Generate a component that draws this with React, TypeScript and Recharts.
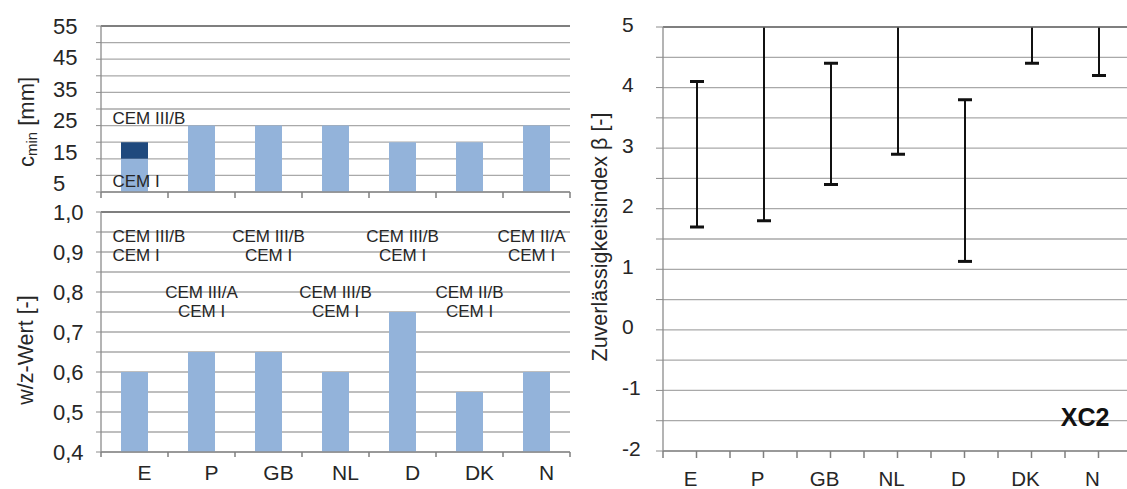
import React from "react";
import {
  BarChart,
  Bar,
  ComposedChart,
  XAxis,
  YAxis,
  CartesianGrid,
  ReferenceLine,
  ReferenceDot,
} from "recharts";

const countries = ["E", "P", "GB", "NL", "D", "DK", "N"];

// c_min in mm (CEM I bars, plus the CEM III/B value where one is shown)
const cMinCemI = [15, 25, 25, 25, 20, 20, 25];
const cMinCemIIIB = [20, null, null, null, null, null, null];
const cMinTicks = [5, 10, 15, 20, 25, 30, 35, 40, 45, 50, 55];

// w/z values
const wzValues = [0.6, 0.65, 0.65, 0.6, 0.75, 0.55, 0.6];
const wzTicks = [0.4, 0.45, 0.5, 0.55, 0.6, 0.65, 0.7, 0.75, 0.8, 0.85, 0.9, 0.95, 1.0];
const cementAlt = ["CEM III/B", "CEM III/A", "CEM III/B", "CEM III/B", "CEM III/B", "CEM II/B", "CEM II/A"];
const cementRef = ["CEM I", "CEM I", "CEM I", "CEM I", "CEM I", "CEM I", "CEM I"];

// reliability index ranges (upper ends beyond 5 are cut off in the plot)
const betaMin = [1.7, 1.8, 2.4, 2.9, 1.13, 4.4, 4.2];
const betaMax = [4.1, 5.5, 4.4, 5.5, 3.8, 5.5, 5.5];
const betaTicks = [-2, -1.5, -1, -0.5, 0, 0.5, 1, 1.5, 2, 2.5, 3, 3.5, 4, 4.5, 5];

const FONT = '"Liberation Sans", Arial, Helvetica, sans-serif';
const TEXT = "#262626";
const GRID = "#A9A9A9";
const AXIS = "#8C8C8C";
const BORDER = "#6A6A6A";
const LIGHT = "#93B3DA";
const DARK = "#1F497D";

const cMinData = countries.map((c, i) => ({
  country: c,
  cemI: cMinCemI[i],
  cemIIIB: cMinCemIIIB[i] != null ? (cMinCemIIIB[i] as number) - cMinCemI[i] : 0,
}));
const wzData = countries.map((c, i) => ({ country: c, wz: wzValues[i] }));
const betaData = countries.map((c, i) => ({ country: c, range: [betaMin[i], betaMax[i]] }));

function YTick(props: any) {
  const { x, y, payload, fmt, dx, size, shift } = props;
  const label = fmt(payload.value);
  if (!label) return null;
  const dy = shift ? shift(payload.value) : 0;
  return (
    <text x={x + dx} y={y + dy} textAnchor="start" dominantBaseline="central" fontSize={size} fontFamily={FONT} fill={TEXT}>
      {label}
    </text>
  );
}

// category axis: tick marks on the category borders (and optionally at centres), label under the centre
function XTick(props: any) {
  const { x, y, payload, len, center, labelDx, labelDy, size, count, width } = props;
  const half = payload.offset > 0 ? payload.offset : width / count / 2;
  const marks = [x - half];
  if (center) marks.push(x);
  if (payload.index === count - 1) marks.push(x + half);
  return (
    <g>
      {marks.map((m, k) => (
        <line key={k} x1={m} x2={m} y1={y} y2={y + len} stroke="#7F7F7F" strokeWidth={1.5} />
      ))}
      {labelDy != null && (
        <text x={x + labelDx} y={y + labelDy} textAnchor="middle" fontSize={size} fontFamily={FONT} fill={TEXT}>
          {payload.value}
        </text>
      )}
    </g>
  );
}

function ErrorShape(props: any) {
  const { x, y, width, height, background } = props;
  if (x == null || y == null) return null;
  const cx = x + width / 2;
  const top = Math.min(y, y + height);
  const bottom = Math.max(y, y + height);
  const limit = background ? background.y : -Infinity;
  return (
    <g>
      <line x1={cx} x2={cx} y1={Math.max(top, limit)} y2={bottom} stroke="#111" strokeWidth={2} />
      {top >= limit && <line x1={x} x2={x + width} y1={top} y2={top} stroke="#111" strokeWidth={3} />}
      <line x1={x} x2={x + width} y1={bottom} y2={bottom} stroke="#111" strokeWidth={3} />
    </g>
  );
}

const fmtCmin = (v: number) => ((v - 5) % 10 === 0 ? String(v) : "");
const fmtWz = (v: number) =>
  Math.abs(v * 10 - Math.round(v * 10)) < 1e-6 ? v.toFixed(1).replace(".", ",") : "";
const fmtBeta = (v: number) => (Number.isInteger(v) ? String(v) : "");

function cemLabel(i: number) {
  return (p: any) => {
    const vb = p.viewBox;
    const cx = vb.x + vb.width / 2;
    const cy = vb.y + vb.height / 2;
    let anchor: "start" | "middle" = "middle";
    let x = cx;
    if (i === 0) {
      anchor = "start";
      x = cx - 22;
    } else if (i === countries.length - 1) {
      x = cx - 5;
    }
    return (
      <text x={x} textAnchor={anchor} fontSize={17} fontFamily={FONT} fill={TEXT} dominantBaseline="central">
        <tspan x={x} y={cy - 9.5}>{cementAlt[i]}</tspan>
        <tspan x={x} y={cy + 9.5}>{cementRef[i]}</tspan>
      </text>
    );
  };
}

function plainLabel(text: string, dx: number, anchor: string, extra: any = {}) {
  return (p: any) => {
    const vb = p.viewBox;
    return (
      <text
        x={vb.x + vb.width / 2 + dx}
        y={vb.y + vb.height / 2}
        textAnchor={anchor}
        dominantBaseline="central"
        fontFamily={FONT}
        fill={TEXT}
        fontSize={17}
        {...extra}
      >
        {text}
      </text>
    );
  };
}

function CminTitle(props: any) {
  const vb = props.viewBox;
  const x = vb.x + 26;
  const y = vb.y + vb.height / 2 + 13;
  return (
    <text transform={`rotate(-90, ${x}, ${y})`} x={x} y={y} textAnchor="middle" dominantBaseline="central" fontSize={22} fontFamily={FONT} fill={TEXT}>
      c<tspan dy={5} fontSize={15}>min</tspan>
      <tspan dy={-5}> [mm]</tspan>
    </text>
  );
}

function RotTitle(props: any) {
  const { viewBox, text, dx, dy } = props;
  const x = viewBox.x + dx;
  const y = viewBox.y + viewBox.height / 2 + dy;
  return (
    <text transform={`rotate(-90, ${x}, ${y})`} x={x} y={y} textAnchor="middle" dominantBaseline="central" fontSize={21.5} fontFamily={FONT} fill={TEXT}>
      {text}
    </text>
  );
}

export default function App() {
  return (
    <div style={{ position: "absolute", left: 0, top: 0, width: 1127, height: 489, overflow: "hidden", background: "#fff" }}>
      <div style={{ position: "absolute", left: 0, top: 0 }}>
        <BarChart width={580} height={200} data={cMinData} margin={{ top: 26, right: 10, bottom: 0, left: 0 }} barSize={27}>
          <CartesianGrid vertical={false} stroke={GRID} strokeWidth={1.3} />
          <XAxis
            dataKey="country"
            height={8}
            interval={0}
            tickLine={false}
            tickSize={0}
            tickMargin={0}
            axisLine={{ stroke: AXIS, strokeWidth: 1.3 }}
            tick={<XTick len={6} count={countries.length} />}
          />
          <YAxis
            domain={[5, 55]}
            ticks={cMinTicks}
            interval={0}
            allowDataOverflow
            width={101}
            tickSize={5}
            tickMargin={0}
            tickLine={{ stroke: AXIS }}
            axisLine={{ stroke: AXIS, strokeWidth: 1.3 }}
            tick={<YTick fmt={fmtCmin} dx={-43} size={22} shift={(v: number) => -(55 - v) * 0.17} />}
            label={<CminTitle />}
          />
          <YAxis yAxisId="border" orientation="right" width={0} tick={false} tickLine={false} axisLine={{ stroke: BORDER, strokeWidth: 1.5 }} />
          <ReferenceLine y={55} stroke={BORDER} strokeWidth={1.5} />
          <Bar dataKey="cemI" stackId="c" fill={LIGHT} isAnimationActive={false} />
          <Bar dataKey="cemIIIB" stackId="c" fill={DARK} isAnimationActive={false} />
          <ReferenceDot x="E" y={27.2} r={0} label={plainLabel("CEM III/B", -22, "start")} />
          <ReferenceDot x="E" y={8.2} r={0} label={plainLabel("CEM I", -22, "start")} />
        </BarChart>
      </div>

      <div style={{ position: "absolute", left: 0, top: 200 }}>
        <BarChart width={580} height={289} data={wzData} margin={{ top: 12, right: 10, bottom: 0, left: 0 }} barSize={27}>
          <CartesianGrid vertical={false} stroke={GRID} strokeWidth={1.3} />
          <XAxis
            dataKey="country"
            height={37}
            interval={0}
            tickLine={false}
            tickSize={0}
            tickMargin={0}
            axisLine={{ stroke: AXIS, strokeWidth: 1.3 }}
            tick={<XTick len={5} count={countries.length} labelDx={10} labelDy={27.5} size={21} />}
          />
          <YAxis
            domain={[0.4, 1.0]}
            ticks={wzTicks}
            interval={0}
            allowDataOverflow
            width={101}
            tickSize={5}
            tickMargin={0}
            tickLine={{ stroke: AXIS }}
            axisLine={{ stroke: AXIS, strokeWidth: 1.3 }}
            tick={<YTick fmt={fmtWz} dx={-43} size={22} />}
            label={<RotTitle text="w/z-Wert [-]" dx={26} dy={18} />}
          />
          <YAxis yAxisId="border" orientation="right" width={0} tick={false} tickLine={false} axisLine={{ stroke: BORDER, strokeWidth: 1.5 }} />
          <ReferenceLine y={1.0} stroke={BORDER} strokeWidth={1.5} />
          <Bar dataKey="wz" fill={LIGHT} isAnimationActive={false} />
          {countries.map((c, i) => (
            <ReferenceDot key={c} x={c} y={i % 2 === 0 ? 0.916 : 0.776} r={0} label={cemLabel(i)} />
          ))}
        </BarChart>
      </div>

      <div style={{ position: "absolute", left: 580, top: 0 }}>
        <ComposedChart width={552} height={489} data={betaData} margin={{ top: 27, right: 0, bottom: 0, left: 0 }} barSize={14}>
          <CartesianGrid vertical={false} stroke={GRID} strokeWidth={1.3} />
          <XAxis
            dataKey="country"
            height={38}
            interval={0}
            tickLine={false}
            tickSize={0}
            tickMargin={0}
            axisLine={{ stroke: AXIS, strokeWidth: 1.3 }}
            tick={<XTick len={7} center count={countries.length} labelDx={-6} labelDy={35} size={20.5} />}
          />
          <YAxis
            domain={[-2, 5]}
            ticks={betaTicks}
            interval={0}
            allowDataOverflow
            width={83}
            tickSize={7}
            tickMargin={0}
            tickLine={{ stroke: AXIS }}
            axisLine={{ stroke: AXIS, strokeWidth: 1.3 }}
            tick={<YTick fmt={fmtBeta} dx={-34} size={21} shift={() => -3} />}
            label={<RotTitle text="Zuverlässigkeitsindex β [-]" dx={20} dy={-2} />}
          />
          <ReferenceLine y={5} stroke={BORDER} strokeWidth={1.5} />
          <Bar dataKey="range" shape={<ErrorShape />} isAnimationActive={false} />
          <ReferenceDot
            x="N"
            y={-1.44}
            r={0}
            label={plainLabel("XC2", 11, "end", { fontSize: 25, fontWeight: "bold", fill: "#111" })}
          />
        </ComposedChart>
      </div>
    </div>
  );
}
